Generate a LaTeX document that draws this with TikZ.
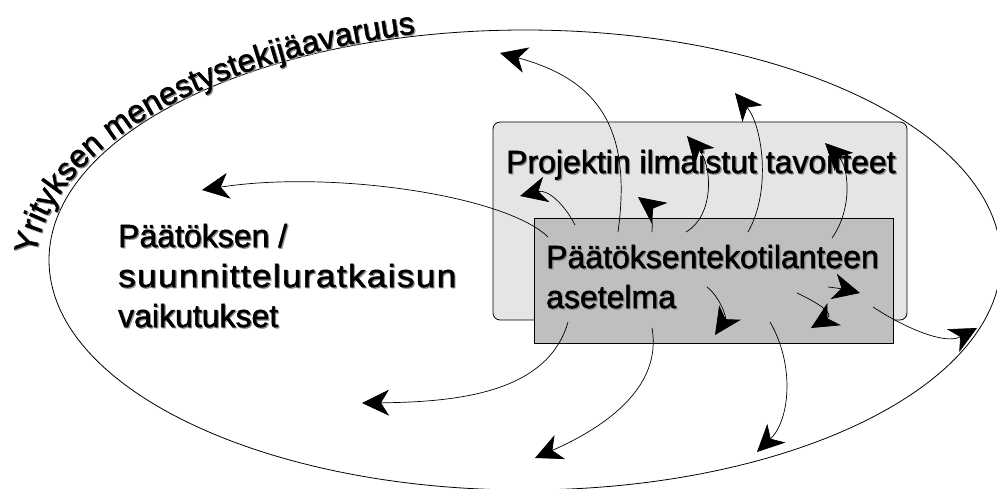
\documentclass[tikz,border=0pt]{standalone}
\usepackage{fontspec}
\setmainfont{Liberation Sans}
\newfontfamily\heavysans{Liberation Sans}[FakeBold=1.6]
\usetikzlibrary{arrows.meta,shapes.geometric,decorations.text}

\definecolor{goalfill}{gray}{0.90}
\definecolor{setupfill}{gray}{0.75}
\definecolor{shadowgray}{gray}{0.55}

\newcommand\spacefont{\heavysans\fontsize{32}{38}\selectfont}
% slightly widened, letter-spaced word
\newcommand\spreadletters[1]{\scalebox{1.1}[1]{\spreadstep#1\relax}}
\def\spreadstep#1{\ifx#1\relax\else#1\kern1.2pt\expandafter\spreadstep\fi}

\begin{document}
\begin{tikzpicture}[x=1pt,y=-1pt,
  big/.style={font=\spacefont, inner sep=0pt, anchor=base west},
  shadowtxt/.style={big, text=shadowgray, xshift=1.2pt, yshift=-1.2pt},
  flow/.style={line width=0.7pt, -{Stealth[length=27pt,width=26pt,inset=8pt]}},
  frame/.style={draw, line width=0.8pt, inner sep=0pt}]

\useasboundingbox (0,0) rectangle (997,488);

% the outer space
\node[frame, ellipse, minimum width=952pt, minimum height=460pt] (space) at (525,260) {};

% boxes
\node[frame, rounded corners=7pt, fill=goalfill, minimum width=414pt, minimum height=198pt] (goals) at (700,221) {};
\node[frame, fill=setupfill, minimum width=359pt, minimum height=125pt] (setup) at (713.5,280.5) {};

% labels (with a soft shadow)
\node[shadowtxt] at (506,173) {Projektin ilmaistut tavoitteet};
\node[big] (goalstxt) at (506,173) {Projektin ilmaistut tavoitteet};

\node[shadowtxt] at (546,268) {Päätöksentekotilanteen};
\node[big] (setup1) at (546,268) {Päätöksentekotilanteen};
\node[shadowtxt] at (546,308) {asetelma};
\node[big] (setup2) at (546,308) {asetelma};

\node[shadowtxt] at (118,247) {Päätöksen /};
\node[big] (eff1) at (118,247) {Päätöksen /};
\node[shadowtxt] at (118,287) {\spreadletters{suunnitteluratkaisun}};
\node[big] (eff2) at (118,287) {\spreadletters{suunnitteluratkaisun}};
\node[shadowtxt] at (118,327) {vaikutukset};
\node[big] (eff3) at (118,327) {vaikutukset};

% title along the outer curve
\path[xshift=1.2pt, yshift=-1.2pt, decorate, decoration={text along path,
  text={|\spacefont\color{shadowgray}|Yrityksen menestystekijäavaruus}, text align={fit to path}}]
  (36,255) .. controls (49.7,150) and (201.4,62) .. (412,34);
\path[decorate, decoration={text along path,
  text={|\spacefont|Yrityksen menestystekijäavaruus}, text align={fit to path}}]
  (36,255) .. controls (49.7,150) and (201.4,62) .. (412,34);

% arrow end points
\coordinate (s1) at (548,237);  \coordinate (e1) at (202,190);
\coordinate (s2) at (575,225);  \coordinate (e2) at (520,196);
\coordinate (s3) at (618,232);  \coordinate (e3) at (500,53);
\coordinate (s4) at (652,232);  \coordinate (e4) at (638,197);
\coordinate (s5) at (686,232);  \coordinate (e5) at (687,136);
\coordinate (s6) at (748,232);  \coordinate (e6) at (735,93);
\coordinate (s7) at (832,238);  \coordinate (e7) at (825,143);
\coordinate (s9) at (568,322);  \coordinate (e9) at (362,403);
\coordinate (s10) at (652,328); \coordinate (e10) at (535,458);
\coordinate (s11) at (770,322); \coordinate (e11) at (757,452);
\coordinate (s12) at (873,307); \coordinate (e12) at (977,328);
\coordinate (s13) at (797,293); \coordinate (e13) at (811,328);
\coordinate (s14) at (707,287); \coordinate (e14) at (715,335);
\coordinate (s15) at (828,287); \coordinate (e15) at (860,293);

% arrows
\draw[flow] (s1) .. controls (505,195) and (330,170) .. (e1);
\draw[flow] (s2) .. controls (565,205) and (548,189) .. (e2);
\draw[flow] (s3) .. controls (632,130) and (600,80) .. (e3);
\draw[flow] (s4) .. controls (653,218) and (650,206) .. (e4);
\draw[flow] (s5) .. controls (715,215) and (712,165) .. (e5);
\draw[flow] (s6) .. controls (772,190) and (762,125) .. (e6);
\draw[flow] (s7) .. controls (852,210) and (850,168) .. (e7);
\draw[flow] (s9) .. controls (548,392) and (460,402) .. (e9);
\draw[flow] (s10) .. controls (662,385) and (610,425) .. (e10);
\draw[flow] (s11) .. controls (795,365) and (790,420) .. (e11);
\draw[flow] (s12) .. controls (905,328) and (945,345) .. (e12);
\draw[flow] (s13) .. controls (812,300) and (836,313) .. (e13);
\draw[flow] (s14) .. controls (719,296) and (727,317) .. (e14);
\draw[flow] (s15) .. controls (838,288) and (848,290) .. (e15);

\end{tikzpicture}
\end{document}
